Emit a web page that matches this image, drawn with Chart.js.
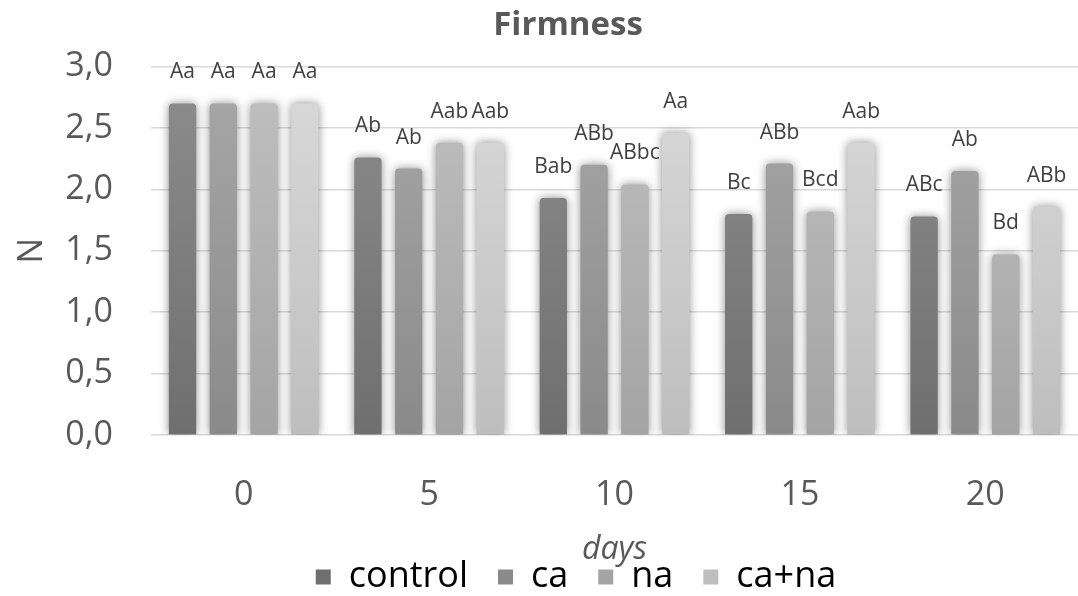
<!DOCTYPE html>
<html>
<head>
<meta charset="utf-8">
<script src="https://cdn.jsdelivr.net/npm/chart.js@4.4.1/dist/chart.umd.min.js"></script>
<style>
  html, body { margin: 0; padding: 0; background: #fff; }
  #wrap { width: 1078px; height: 596px; }
</style>
</head>
<body>
<div id="wrap"><canvas id="firmness"></canvas></div>
<script>
// Firmness (N) over storage days, four treatments
const days = ['0', '5', '10', '15', '20'];
const seriesNames = ['control', 'ca', 'na', 'ca+na'];

const control = [2.70, 2.26, 1.93, 1.80, 1.78];
const ca = [2.70, 2.17, 2.20, 2.21, 2.15];
const na = [2.70, 2.38, 2.04, 1.82, 1.47];
const caNa = [2.70, 2.38, 2.46, 2.38, 1.86];

// significance letters shown above each bar
const lettersControl = ['Aa', 'Ab', 'Bab', 'Bc', 'ABc'];
const lettersCa = ['Aa', 'Ab', 'ABb', 'ABb', 'Ab'];
const lettersNa = ['Aa', 'Aab', 'ABbc', 'Bcd', 'Bd'];
const lettersCaNa = ['Aa', 'Aab', 'Aa', 'Aab', 'ABb'];

const yTicks = [0, 0.5, 1, 1.5, 2, 2.5, 3];

const FONT = "'Open Sans', 'Noto Sans', sans-serif";
const TXT = '#595959';

// top / bottom shade of each series
const shades = [
    ['#8d8d8d', '#6f6f6f'],
    ['#a8a8a8', '#8a8a8a'],
    ['#c0c0c0', '#a4a4a4'],
    ['#dadada', '#bebebe']
];

function gradientFill(i) {
    return (context) => {
        const area = context.chart.chartArea;
        if (!area) return shades[i][1];
        const g = context.chart.ctx.createLinearGradient(0, area.top, 0, area.bottom);
        g.addColorStop(0, shades[i][0]);
        g.addColorStop(1, shades[i][1]);
        return g;
    };
}

// soft shadow round the bars
const barShadow = {
    id: 'barShadow',
    beforeDatasetsDraw(chart) {
        const ctx = chart.ctx;
        ctx.save();
        ctx.shadowColor = 'rgba(0,0,0,0.45)';
        ctx.shadowBlur = 10;
        ctx.shadowOffsetX = 0;
        ctx.shadowOffsetY = 0;
    },
    afterDatasetsDraw(chart) {
        chart.ctx.restore();
    }
};

// letters above bars
const barLetters = {
    id: 'barLetters',
    afterDatasetsDraw(chart) {
        const ctx = chart.ctx;
        ctx.save();
        ctx.font = '21px ' + FONT;
        ctx.fillStyle = '#404040';
        ctx.textAlign = 'center';
        ctx.textBaseline = 'middle';
        chart.data.datasets.forEach((ds, i) => {
            chart.getDatasetMeta(i).data.forEach((bar, j) => {
                ctx.fillText(ds.letters[j], bar.x, bar.y - 31);
            });
        });
        ctx.restore();
    }
};

// the original has title and legend sitting a bit right of centre
const shiftBoxes = {
    id: 'shiftBoxes',
    afterLayout(chart) {
        if (chart.titleBlock) { chart.titleBlock.left += 29; chart.titleBlock.right += 29; }
        if (chart.legend) { chart.legend.left += 37; chart.legend.right += 37; }
    }
};

const values = [control, ca, na, caNa];
const letters = [lettersControl, lettersCa, lettersNa, lettersCaNa];

new Chart(document.getElementById('firmness'), {
    type: 'bar',
    data: {
        labels: days,
        datasets: seriesNames.map((name, i) => ({
            label: name,
            data: values[i],
            letters: letters[i],
            backgroundColor: gradientFill(i),
            borderRadius: { topLeft: 4, topRight: 4 },
            borderSkipped: 'bottom',
            categoryPercentage: 0.88,
            barPercentage: 0.67
        }))
    },
    options: {
        responsive: true,
        maintainAspectRatio: false,
        animation: false,
        layout: { padding: { left: 0, right: 0, top: 0, bottom: -9 } },
        plugins: {
            title: {
                display: true,
                text: 'Firmness',
                color: TXT,
                font: { family: FONT, size: 33, weight: 'bold' },
                padding: { top: 6, bottom: 21 }
            },
            legend: {
                position: 'bottom',
                labels: {
                    color: TXT,
                    font: { family: FONT, size: 36 },
                    boxWidth: 15,
                    boxHeight: 15,
                    padding: 30,
                    generateLabels: (chart) => chart.data.datasets.map((ds, i) => ({
                        text: ds.label,
                        fillStyle: shades[i][1],
                        strokeStyle: shades[i][1],
                        lineWidth: 0,
                        datasetIndex: i
                    }))
                }
            },
            tooltip: { enabled: false }
        },
        scales: {
            x: {
                afterFit: (s) => { s.height = 94; },
                grid: { display: false, drawTicks: false },
                border: { display: false },
                ticks: { color: TXT, font: { family: FONT, size: 34 }, padding: 40 },
                title: {
                    display: true,
                    text: 'days',
                    color: TXT,
                    font: { family: FONT, size: 32, style: 'italic' },
                    padding: { top: 0, bottom: -40 }
                }
            },
            y: {
                min: 0,
                max: 3,
                afterBuildTicks: (s) => { s.ticks = yTicks.map(v => ({ value: v })); },
                afterFit: (s) => { s.width = 151; },
                grid: { color: '#d9d9d9', lineWidth: 1.5, drawTicks: false },
                border: { display: false },
                ticks: {
                    color: TXT,
                    font: { family: FONT, size: 34 },
                    padding: 38,
                    callback: (v) => v.toFixed(1).replace('.', ',')
                },
                title: {
                    display: true,
                    text: 'N',
                    color: TXT,
                    font: { family: FONT, size: 34 },
                    padding: { top: 12, bottom: 0 }
                }
            }
        }
    },
    plugins: [barShadow, barLetters, shiftBoxes]
});
</script>
</body>
</html>
